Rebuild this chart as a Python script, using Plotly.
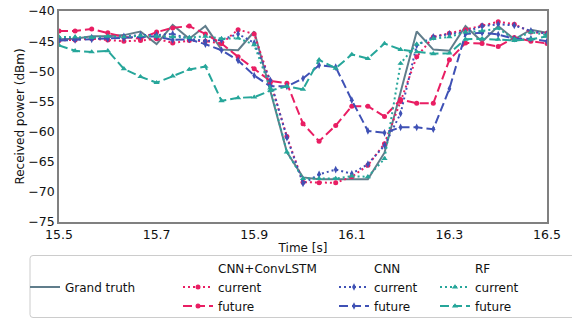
import plotly.graph_objects as go

# Sample times (s), 30 Hz
time_s = [15.5, 15.533, 15.567, 15.6, 15.633, 15.667, 15.7, 15.733, 15.767, 15.8,
          15.833, 15.867, 15.9, 15.933, 15.967, 16.0, 16.033, 16.067, 16.1, 16.133,
          16.167, 16.2, 16.233, 16.267, 16.3, 16.333, 16.367, 16.4, 16.433, 16.467, 16.5]

# Received power (dBm)
ground_truth = [-44.7, -44.6, -44.2, -44.2, -44.0, -43.4, -45.5, -42.3, -44.6, -42.5,
                -46.4, -46.5, -43.4, -53.2, -63.4, -67.6, -67.9, -67.9, -67.9, -67.9,
                -63.5, -53.5, -43.4, -46.4, -46.6, -42.5, -45.1, -42.5, -44.7, -43.1, -43.6]

convlstm_current = [-44.9, -44.8, -44.6, -44.8, -45.0, -44.9, -44.6, -45.3, -44.9, -45.0,
                    -45.4, -43.1, -43.8, -51.8, -60.8, -68.4, -68.5, -68.5, -67.5, -65.6,
                    -62.0, -55.0, -47.6, -44.3, -43.7, -43.1, -42.4, -41.8, -42.2, -43.5, -43.7]
convlstm_future = [-43.3, -43.3, -43.0, -43.6, -44.3, -44.6, -43.5, -42.8, -42.5, -43.8,
                   -45.4, -47.6, -49.6, -51.6, -52.0, -58.7, -61.6, -59.0, -55.8, -55.8,
                   -57.5, -54.7, -55.3, -55.3, -48.1, -45.3, -45.4, -45.9, -44.4, -45.0, -45.4]

cnn_current = [-44.6, -44.5, -44.4, -44.4, -44.2, -44.0, -44.0, -43.8, -44.6, -45.0,
               -44.8, -43.8, -45.3, -51.5, -61.0, -68.6, -67.1, -66.3, -67.0, -65.4,
               -62.3, -57.0, -45.7, -44.3, -43.8, -43.5, -42.5, -42.2, -42.4, -43.3, -43.8]
cnn_future = [-44.9, -44.8, -44.7, -44.6, -44.5, -44.3, -44.2, -44.8, -44.7, -45.5,
              -46.5, -48.2, -50.7, -52.5, -52.5, -51.2, -49.0, -49.3, -54.8, -59.9,
              -60.2, -59.3, -59.3, -59.6, -52.9, -43.8, -43.6, -43.9, -44.6, -44.6, -45.0]

rf_current = [-44.3, -44.3, -44.4, -44.2, -44.3, -44.1, -44.2, -44.3, -44.4, -44.2,
              -44.6, -44.5, -45.6, -52.8, -63.4, -67.8, -67.8, -67.8, -67.4, -67.5,
              -64.5, -48.7, -45.5, -44.6, -44.3, -43.5, -43.3, -42.9, -44.7, -43.5, -44.0]
rf_future = [-45.7, -46.6, -46.8, -46.6, -49.6, -50.9, -51.9, -50.8, -49.7, -49.2,
             -54.9, -54.4, -54.3, -53.2, -52.5, -53.0, -48.1, -49.5, -47.2, -47.9,
             -45.4, -46.4, -46.8, -47.1, -47.0, -44.7, -44.6, -44.7, -44.9, -44.7, -44.2]

x_ticks = [15.5, 15.7, 15.9, 16.1, 16.3, 16.5]
y_ticks = [-75, -70, -65, -60, -55, -50, -45, -40]

GREY = "#607D8B"
PINK = "#E91E63"
BLUE = "#3F51B5"
TEAL = "#26A69A"
FONT = "DejaVu Sans"
DOT = "2px,3px"
DASH = "9px,4px"
CLEAR = "rgba(0,0,0,0)"

fig = go.Figure()


def header(name, legend):
    # text-only legend row (no symbol)
    fig.add_trace(go.Scatter(x=[None], y=[None], mode="lines", name=name,
                             line=dict(color=CLEAR, width=0), legend=legend,
                             hoverinfo="skip"))


def series(y, name, color, dash, symbol, size, legend):
    fig.add_trace(go.Scatter(x=time_s, y=y, mode="lines+markers", name=name,
                             line=dict(color=color, width=2, dash=dash),
                             marker=dict(color=color, symbol=symbol, size=size,
                                         line=dict(width=0)),
                             legend=legend))


# column 1
header(" ", "legend")
fig.add_trace(go.Scatter(x=time_s, y=ground_truth, mode="lines", name="Grand truth",
                         line=dict(color=GREY, width=2), legend="legend"))
# column 2
header("CNN+ConvLSTM", "legend2")
series(convlstm_current, "current", PINK, DOT, "circle", 5, "legend2")
series(convlstm_future, "future", PINK, DASH, "circle", 5, "legend2")
# column 3
header("CNN", "legend3")
series(cnn_current, "current", BLUE, DOT, "diamond-tall", 5.5, "legend3")
series(cnn_future, "future", BLUE, DASH, "diamond-tall", 5.5, "legend3")
# column 4
header("RF", "legend4")
series(rf_current, "current", TEAL, DOT, "triangle-up", 5.5, "legend4")
series(rf_future, "future", TEAL, DASH, "triangle-up", 5.5, "legend4")

W, H = 572, 320
ML, MR, MT, MB = 59, 25, 11, 98
PW, PH = W - ML - MR, H - MT - MB


def px_x(px):
    return (px - ML) / PW


def px_y(py):
    return (H - MB - py) / PH


leg_common = dict(xanchor="left", yanchor="top", y=px_y(253.5),
                  bgcolor=CLEAR, borderwidth=0, tracegroupgap=0,
                  font=dict(family=FONT, size=12, color="#111"))

# rounded legend frame
L, R, T, B = px_x(30), px_x(580), px_y(255.5), px_y(317.5)
rx, ry = 3 / PW, 3 / PH
frame = (f"M{L+rx},{T} L{R-rx},{T} Q{R},{T} {R},{T-ry} L{R},{B+ry} Q{R},{B} {R-rx},{B} "
         f"L{L+rx},{B} Q{L},{B} {L},{B+ry} L{L},{T-ry} Q{L},{T} {L+rx},{T} Z")

axis_common = dict(showline=True, mirror=True, linecolor="#808080", linewidth=1.5,
                   showgrid=False, zeroline=False, ticks="",
                   tickfont=dict(family=FONT, size=12.5, color="#111"))

fig.update_layout(
    width=W, height=H,
    margin=dict(l=ML, r=MR, t=MT, b=MB, autoexpand=False),
    paper_bgcolor="white", plot_bgcolor="white",
    font=dict(family=FONT, color="#111"),
    xaxis=dict(range=[15.5, 16.5], tickvals=x_ticks, tickformat=".1f",
               title=dict(text="Time [s]", font=dict(family=FONT, size=12), standoff=3),
               **axis_common),
    yaxis=dict(range=[-75, -40], tickvals=y_ticks,
               title=dict(text="Received power (dBm)", font=dict(family=FONT, size=12),
                          standoff=1),
               **axis_common),
    legend=dict(x=px_x(25), **leg_common),
    legend2=dict(x=px_x(178), **leg_common),
    legend3=dict(x=px_x(334), **leg_common),
    legend4=dict(x=px_x(435), **leg_common),
    shapes=[dict(type="path", xref="paper", yref="paper", path=frame,
                 line=dict(color="#cccccc", width=1), fillcolor=CLEAR)],
    showlegend=True,
)

fig.write_html("out.html")
